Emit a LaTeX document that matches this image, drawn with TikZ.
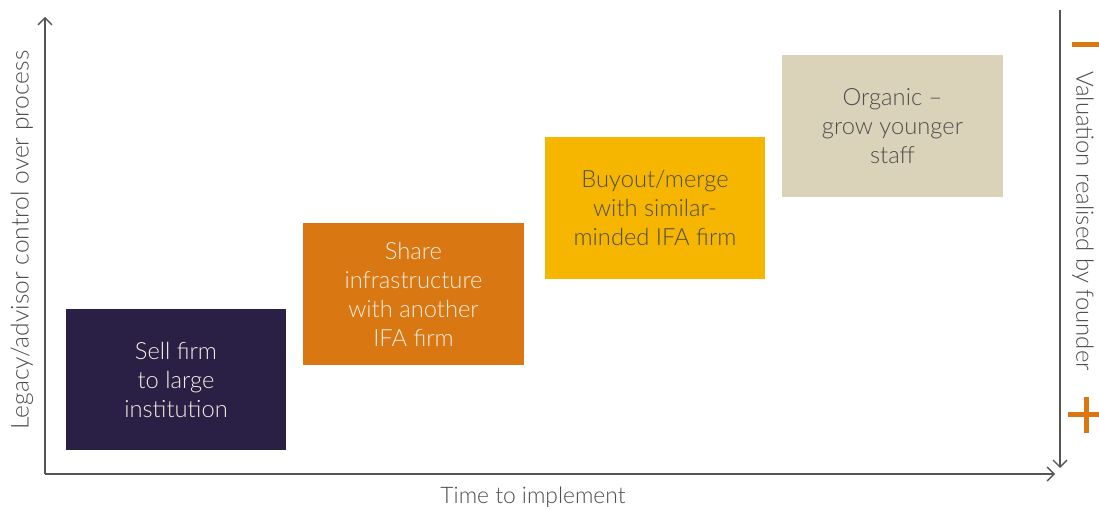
\documentclass[tikz,border=0pt]{standalone}
\usepackage{fontspec}
\setmainfont{Lato}[UprightFont={* Light}]
\usepackage{xcolor}
\definecolor{ifadark}{RGB}{42,31,69}
\definecolor{ifaorange}{RGB}{217,119,18}
\definecolor{ifayellow}{RGB}{246,182,0}
\definecolor{ifabeige}{RGB}{218,211,185}
\definecolor{ifatext}{RGB}{77,77,77}
\definecolor{ifaaxis}{RGB}{85,85,85}
\definecolor{ifalight}{RGB}{245,238,226}
\usetikzlibrary{arrows.meta,positioning}

\tikzset{
  option/.style={minimum width=4.42cm,minimum height=2.84cm,inner sep=0pt,
                 align=center,font=\fontsize{13.5}{16.5}\selectfont},
  axis/.style={draw=ifaaxis,line width=0.8pt,
               -{Straight Barb[length=1.4mm,width=2.8mm]}},
  axislabel/.style={text=ifatext,font=\fontsize{13}{16}\selectfont}
}

\begin{document}
\begin{tikzpicture}[x=0.02cm,y=-0.02cm]
  \useasboundingbox (0,0) rectangle (1099,510);

  %% axes
  \coordinate (origin) at (45,474);
  \coordinate (ytop) at (45,17);
  \coordinate (xend) at (1055,474);
  \coordinate (vtop) at (1060,10);
  \coordinate (vend) at (1060,468);
  \draw[axis] (origin) -- (ytop);
  \draw[axis] (origin) -- (xend);
  \draw[axis] (vtop) -- (vend);

  %% axis labels
  \node[axislabel,rotate=90,font=\fontsize{14}{16}\selectfont] (control)
        at (22,240) {Legacy/advisor control over process};
  \node[axislabel] (time) at (533,497) {Time to implement};
  \node[axislabel,rotate=-90,font=\fontsize{13.6}{16}\selectfont] (valuation)
        at (1083,221) {Valuation realised by founder};

  %% minus / plus markers
  \fill[ifaorange] (1072,42.5) rectangle (1099,47.5);
  \fill[ifaorange] (1068,412) rectangle (1099,417);
  \fill[ifaorange] (1083.5,397) rectangle (1088.5,433);

  %% the four options
  \node[option,fill=ifadark,text=ifalight] (sell) at (176,379.5)
        {Sell firm\\to large\\institution};
  \node[option,fill=ifaorange,text=ifalight] (share) at (413.5,294)
        {Share\\infrastructure\\with another\\IFA firm};
  \node[option,fill=ifayellow,text=ifatext] (buyout) at (655,208)
        {Buyout/merge\\with similar-\\minded IFA firm};
  \node[option,fill=ifabeige,text=ifatext] (organic) at (892.5,126)
        {Organic --\\grow younger\\staff};
\end{tikzpicture}
\end{document}
